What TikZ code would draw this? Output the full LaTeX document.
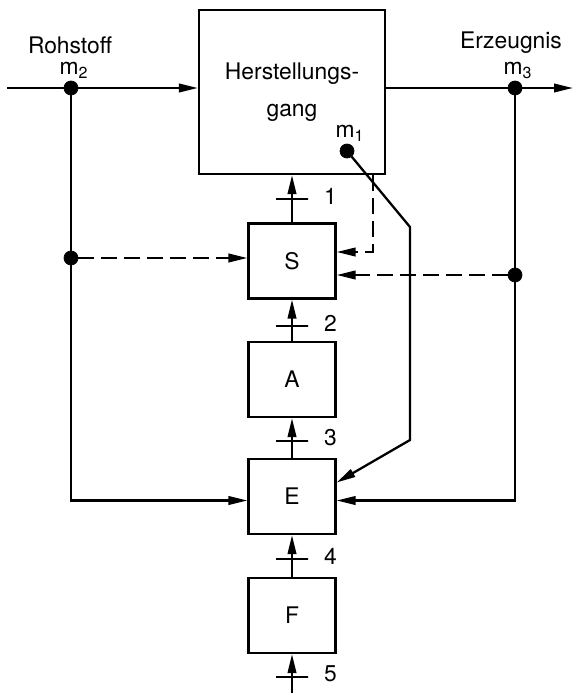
\documentclass[tikz,border=0pt]{standalone}
\usepackage{fontspec}
\setmainfont{TeX Gyre Heros}
\usetikzlibrary{arrows.meta}
\tikzset{
  block/.style={
    shape = rectangle,
    draw,
    line width = 1.3pt,
    minimum width = 1.74cm,
    minimum height = 1.5cm
  },
  dot/.style={
    inner sep = 0,
    minimum size = 0.28cm,
    shape = circle,
    draw,
    fill
  },
  cut/.style={
    inner sep = 0,
    minimum width = 0.64cm,
    minimum height = 0,
    shape = rectangle,
    draw,
    line width = 1.3pt
  },
  flow/.style={
    line width = 1.3pt,
    -{Triangle[length=3.8mm,width=1.7mm]}
  },
  signal/.style={
    flow,
    dash pattern = on 0.32cm off 0.14cm
  },
  every picture/.style = {
    font=\fontsize{13}{21}\selectfont
  },
  every label/.style = {
    inner sep = 1pt,
    xshift = 0.06cm
  }
}

\begin{document}
\begin{tikzpicture}[x=0.02cm,y=-0.02cm]
\useasboundingbox (0,0) rectangle (573,693);
% process and the control chain below it
\node[block, minimum width=3.72cm, minimum height=3.28cm, align=center] (herst) at (292,92) {Herstellungs-\\gang};
\node[block] (S) at (292,261) {S};
\node[block] (A) at (292,379.5) {A};
\node[block] (E) at (292,496.5) {E};
\node[block] (F) at (292,615.5) {F};
% measuring points
\node[dot, label=above:m\textsubscript{2}] (m2) at (71,88) {};
\node[dot, label=above:m\textsubscript{3}] (m3) at (515,88) {};
\node[dot, label=above:m\textsubscript{1}] (m1) at (347,151) {};
\node[dot] (dl) at (71,258) {};
\node[dot] (dr) at (515,275) {};
\node (rohstoff) at (70,45) {Rohstoff};
\node (erzeugnis) at (511,43) {Erzeugnis};
\coordinate (in) at (7,88);
\coordinate (out) at (573,88);
\coordinate (src) at (292,693);
\coordinate (k1) at (410,227);
\coordinate (k2) at (410,440);
% main flow
\draw[flow] (in) -- (m2) -- (m2 -| herst.west);
\draw[flow] (m3 -| herst.east) -- (m3) -- (out);
\draw[flow] (src) -- (F);
\draw[flow] (F) -- (E);
\draw[flow] (E) -- (A);
\draw[flow] (A) -- (S);
\draw[flow] (S) -- (herst);
		  \foreach \y/\n in {199/1,326/2,441/3,559/4,677/5}{
		    \node[cut, label={[label distance=0.2cm, yshift=0.06cm]right:\n}] (c\n) at (292,\y) {}; }
% feedback
\draw[flow] (m2) |- ([yshift=-0.08cm]E.west);
\draw[flow] (m3) |- ([yshift=-0.08cm]E.east);
\draw[flow] (m1) -- (k1) -- (k2) -- ([yshift=0.28cm]E.east);
\draw[signal] (dl) -- (dl -| S.west);
\draw[signal] (dr) -- (dr -| S.east);
\draw[signal] ([xshift=1.62cm]herst.south) |- ([yshift=0.18cm]S.east);
\end{tikzpicture}
\end{document}
